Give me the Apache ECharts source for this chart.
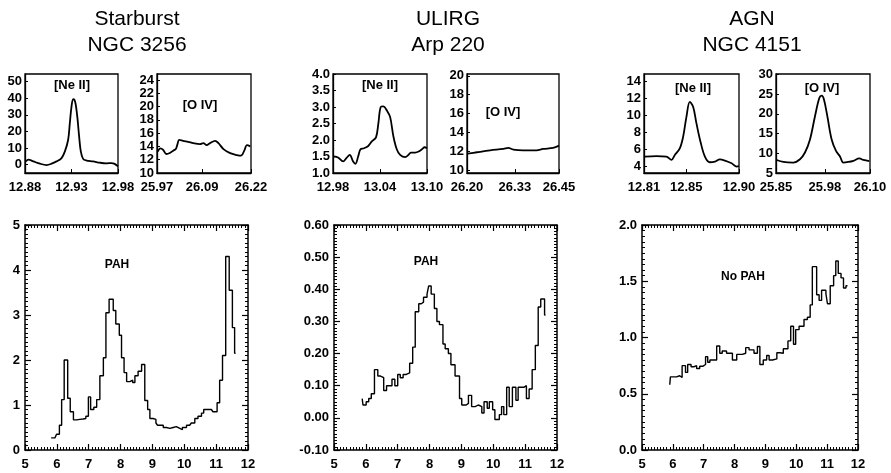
<!DOCTYPE html>
<html><head><meta charset="utf-8">
<script src="https://cdn.jsdelivr.net/npm/echarts@6/dist/echarts.min.js"></script>
<style>html,body{margin:0;padding:0;background:#fff}#c{width:891px;height:473px}</style>
</head><body><div id="c"></div>
<script>
// ---------- Titles ----------
const titles = [["Starburst","NGC 3256"],["ULIRG","Arp 220"],["AGN","NGC 4151"]];

// ---------- Top panels: line profiles ----------
// Starburst [Ne II]
const sbNeX = [12.8811,12.8836,12.8889,12.8961,12.9032,12.9086,12.9139,12.9193,12.9229,12.9264,12.9282,12.9300,12.9318,12.9332,12.9346,12.9364,12.9382,12.9400,12.9425,12.9461,12.9532,12.9604,12.9675,12.9729,12.9764,12.9800];
const sbNeY = [2,3,2,0.6,-0.2,0.6,2,4,8,15,25,35,39.5,39,36,28,17,8,3.5,2.5,2,1.2,0.8,1,0.5,-1];
const sbNeXTicks = [12.88,12.93,12.98];
const sbNeYTicks = [0,10,20,30,40,50];
// Starburst [O IV]
const sbOX = [25.9718,25.9789,25.9861,25.9950,26.0039,26.0129,26.0200,26.0245,26.0289,26.0396,26.0530,26.0664,26.0843,26.0932,26.1021,26.1111,26.1245,26.1334,26.1468,26.1646,26.1825,26.1932,26.2021,26.2093,26.2182];
const sbOY = [13.2,13.7,13.5,12.86,13.0,13.36,13.6,14.35,15.0,14.84,14.7,14.5,14.35,14.5,14.2,14.5,14.84,14.5,13.6,13.0,12.7,12.6,13.36,14.2,14.0];
const sbOXTicks = [25.97,26.09,26.22];
const sbOYTicks = [10,12,14,16,18,20,22,24];
// ULIRG [Ne II]
const ulNeX = [12.9813,12.9864,12.9929,12.9971,13.0014,13.0057,13.0087,13.0121,13.0151,13.0194,13.0250,13.0293,13.0349,13.0379,13.0409,13.0443,13.0486,13.0529,13.0572,13.0614,13.0657,13.0722,13.0764,13.0794,13.0850,13.0893,13.0936,13.0970,13.1000];
const ulNeY = [1.5,1.47,1.35,1.45,1.55,1.35,1.28,1.5,1.72,1.75,1.82,1.95,2.08,2.5,3.0,3.02,2.9,2.7,2.1,1.72,1.55,1.48,1.55,1.62,1.62,1.65,1.72,1.78,1.75];
const ulNeXTicks = [12.98,13.04,13.10];
const ulNeYTicks = [1.0,1.5,2.0,2.5,3.0,3.5,4.0];
// ULIRG [O IV]
const ulOX = [26.2018,26.2270,26.2630,26.2989,26.3124,26.3259,26.3529,26.3888,26.4068,26.4338,26.4500];
const ulOY = [11.75,11.9,12.1,12.25,12.36,12.18,12.1,12.1,12.25,12.36,12.6];
const ulOXTicks = [26.20,26.33,26.45];
const ulOYTicks = [10,12,14,16,18,20];
// AGN [Ne II]
const agNeX = [12.8106,12.8217,12.8312,12.8360,12.8392,12.8439,12.8471,12.8502,12.8534,12.8566,12.8597,12.8635,12.8677,12.8724,12.8772,12.8819,12.8867,12.8930,12.8978,12.9000];
const agNeY = [5.14,5.2,5.14,4.75,5.33,6.1,7.5,9.84,11.6,11.0,9.06,6.9,5.14,4.47,4.55,4.82,4.67,4.35,3.96,4.0];
const agNeXTicks = [12.81,12.85,12.90];
const agNeYTicks = [4,6,8,10,12,14];
// AGN [O IV]
const agOX = [25.8518,25.8695,25.8961,25.9138,25.9271,25.9404,25.9537,25.9652,25.9715,25.9777,25.9865,25.9980,26.0096,26.0202,26.0291,26.0424,26.0557,26.0716,26.0823,26.0982];
const agOY = [8.3,7.8,7.65,8.5,10.2,13.5,19.4,24.0,24.6,23.6,19.4,13.5,10.6,9.2,7.65,7.8,8.1,8.7,8.3,8.0];
const agOXTicks = [25.85,25.98,26.10];
const agOYTicks = [5,10,15,20,25,30];

// ---------- Bottom panels: step spectra (bin edges + values) ----------
const sbPahEdges = [5.82,5.94,5.99,6.08,6.15,6.23,6.34,6.42,6.52,6.62,6.72,6.82,6.91,6.99,7.06,7.16,7.25,7.35,7.46,7.54,7.64,7.77,7.85,7.96,8.03,8.11,8.19,8.29,8.38,8.45,8.55,8.66,8.76,8.85,8.92,9.02,9.11,9.16,9.25,9.34,9.44,9.55,9.65,9.75,9.86,9.94,10.07,10.17,10.22,10.33,10.43,10.54,10.61,10.69,10.85,10.90,11.03,11.11,11.20,11.30,11.41,11.51,11.58,11.61];
const sbPahVals  = [0.27,0.30,0.35,0.55,1.12,2.0,1.15,0.85,0.67,0.68,0.69,0.70,0.75,1.18,0.90,0.95,1.12,1.65,2.05,3.05,3.35,3.1,2.8,2.55,2.05,1.72,1.52,1.55,1.5,1.65,1.75,1.9,1.1,0.9,0.7,0.68,0.6,0.55,0.55,0.5,0.48,0.5,0.52,0.48,0.45,0.5,0.55,0.52,0.6,0.7,0.75,0.82,0.9,0.9,0.88,0.85,1.05,1.55,2.1,4.3,3.55,2.72,2.15];
const ulPahEdges = [5.885,5.91,6.01,6.09,6.17,6.27,6.375,6.46,6.56,6.65,6.82,6.91,7.0,7.08,7.17,7.27,7.375,7.47,7.55,7.66,7.74,7.81,7.92,7.97,8.05,8.15,8.23,8.31,8.42,8.49,8.59,8.67,8.80,8.94,9.01,9.15,9.22,9.32,9.43,9.53,9.64,9.71,9.81,9.875,9.98,10.05,10.19,10.26,10.33,10.42,10.5,10.6,10.71,10.78,10.96,11.04,11.125,11.22,11.32,11.41,11.49,11.61,11.64];
const ulPahVals  = [0.06,0.04,0.05,0.06,0.075,0.15,0.13,0.125,0.085,0.10,0.12,0.10,0.135,0.125,0.135,0.14,0.17,0.22,0.33,0.355,0.36,0.375,0.385,0.41,0.385,0.34,0.30,0.29,0.23,0.215,0.20,0.165,0.13,0.06,0.04,0.045,0.07,0.035,0.04,0.035,0.015,0.05,0.03,0.05,0.025,-0.005,0.01,0.035,0.01,0.095,0.035,0.095,0.055,0.095,0.10,0.06,0.09,0.15,0.225,0.345,0.37,0.32];
const agPahEdges = [5.90,5.92,6.12,6.22,6.30,6.41,6.48,6.59,6.68,6.77,6.87,6.98,7.06,7.13,7.20,7.42,7.52,7.60,7.74,7.93,8.07,8.25,8.36,8.47,8.63,8.74,8.82,8.93,9.04,9.12,9.23,9.37,9.47,9.58,9.73,9.82,9.91,9.98,10.09,10.25,10.36,10.45,10.52,10.66,10.74,10.82,10.96,11.01,11.10,11.21,11.28,11.36,11.45,11.53,11.61,11.66];
const agPahVals  = [0.58,0.65,0.66,0.645,0.75,0.69,0.76,0.74,0.75,0.725,0.745,0.76,0.83,0.78,0.80,0.925,0.86,0.88,0.86,0.80,0.85,0.86,0.91,0.89,0.86,0.92,0.76,0.80,0.84,0.80,0.81,0.865,0.86,0.90,0.97,1.10,0.94,1.07,1.10,1.16,1.18,1.29,1.63,1.38,1.33,1.42,1.39,1.30,1.46,1.55,1.68,1.57,1.53,1.44,1.46];
const bigXTicks = [5,6,7,8,9,10,11,12];

// ---------- chart construction ----------
const FONT = 'Liberation Sans, Arial, sans-serif';
const grid = [], xAxis = [], yAxis = [], series = [];
const lab = {color:'#000', fontFamily:FONT, fontWeight:'bold', fontSize:13};

function addTop(box, xr, yr, xT, yT, yFmt, xs, ys){
  const gi = grid.length;
  grid.push({left:box[0], top:box[1], width:box[2], height:box[3], show:true, borderColor:'#000', borderWidth:1.3, containLabel:false});
  xAxis.push({type:'value', gridIndex:gi, min:xr[0], max:xr[1], position:'bottom',
    splitLine:{show:false},
    axisLine:{show:true, onZero:false, lineStyle:{color:'#000', width:1.3}},
    axisTick:{show:true, inside:true, length:4, customValues:xT, lineStyle:{color:'#000'}},
    axisLabel:Object.assign({customValues:xT, margin:8, formatter:v=>v.toFixed(2)}, lab)});
  yAxis.push({type:'value', gridIndex:gi, min:yr[0], max:yr[1], position:'left',
    splitLine:{show:false},
    axisLine:{show:true, onZero:false, lineStyle:{color:'#000', width:1.3}},
    axisTick:{show:true, inside:true, length:3, customValues:yT, lineStyle:{color:'#000'}},
    axisLabel:Object.assign({customValues:yT, margin:3, formatter:yFmt}, lab)});
  series.push({type:'line', xAxisIndex:xAxis.length-1, yAxisIndex:yAxis.length-1,
    data: xs.map((x,i)=>[x, ys[i]]), smooth:0.35, showSymbol:false, silent:true,
    lineStyle:{color:'#000', width:1.8}});
}

function addBottom(box, yr, yInt, yFmt, edges, vals){
  const gi = grid.length;
  grid.push({left:box[0], top:box[1], width:box[2], height:box[3], show:false});
  const common = {splitLine:{show:false}};
  const tick = {show:true, inside:true, length:6, lineStyle:{color:'#000', width:1.2}};
  const minor = {show:true, splitNumber:10, length:3, lineStyle:{color:'#000', width:1}};
  xAxis.push(Object.assign({type:'value', gridIndex:gi, min:5, max:12, interval:1, position:'bottom',
    axisLine:{show:true, onZero:false, lineStyle:{color:'#000', width:1.5}},
    axisTick:tick, minorTick:minor,
    axisLabel:Object.assign({margin:8}, lab)}, common));
  const xb = xAxis.length-1;
  xAxis.push(Object.assign({type:'value', gridIndex:gi, min:5, max:12, interval:1, position:'top',
    axisLine:{show:true, onZero:false, lineStyle:{color:'#000', width:1.5}},
    axisTick:tick, minorTick:minor, axisLabel:{show:false}}, common));
  yAxis.push(Object.assign({type:'value', gridIndex:gi, min:yr[0], max:yr[1], interval:yInt, position:'left',
    axisLine:{show:true, onZero:false, lineStyle:{color:'#000', width:1.5}},
    axisTick:tick, minorTick:minor,
    axisLabel:Object.assign({margin:5, formatter:yFmt}, lab)}, common));
  const yl = yAxis.length-1;
  yAxis.push(Object.assign({type:'value', gridIndex:gi, min:yr[0], max:yr[1], interval:yInt, position:'right',
    axisLine:{show:true, onZero:false, lineStyle:{color:'#000', width:1.5}},
    axisTick:tick, minorTick:minor, axisLabel:{show:false}}, common));
  const data = vals.map((v,i)=>[edges[i], v]);
  data.push([edges[vals.length], vals[vals.length-1]]);
  series.push({type:'line', xAxisIndex:xb, yAxisIndex:yl, data, step:'end',
    showSymbol:false, silent:true, lineStyle:{color:'#000', width:1.4}});
}

const f0 = v=>String(Math.round(v));
const f1 = v=>v.toFixed(1);
const f2 = v=>v.toFixed(2);

addTop([25,74,93,99],   [12.88,12.98], [-5,54.6], sbNeXTicks, sbNeYTicks, f0, sbNeX, sbNeY);
addTop([157,74,94,99],  [25.97,26.22], [10,24.9], sbOXTicks, sbOYTicks, f0, sbOX, sbOY);
addTop([333,74,94,99],  [12.98,13.10], [1.0,4.0], ulNeXTicks, ulNeYTicks, f1, ulNeX, ulNeY);
addTop([467,74,92,99],  [26.20,26.45], [9.7,20.2], ulOXTicks, ulOYTicks, f0, ulOX, ulOY);
addTop([644,74,95,99],  [12.81,12.90], [3.2,14.9], agNeXTicks, agNeYTicks, f0, agNeX, agNeY);
addTop([776,74,94,99],  [25.85,26.10], [5,30.1], agOXTicks, agOYTicks, f0, agOX, agOY);

addBottom([25,225,223,225],  [0,5], 1, f0, sbPahEdges, sbPahVals);
addBottom([334,225,223,225], [-0.1,0.6], 0.1, f2, ulPahEdges, ulPahVals);
addBottom([642,225,216,225], [0,2], 0.5, f1, agPahEdges, agPahVals);

function txt(s, x, y, font){
  return {type:'text', x, y, silent:true, style:{text:s, fill:'#000', font, textAlign:'center', textVerticalAlign:'middle'}};
}
const tFont = 'normal 21px ' + FONT;
const lFont = 'bold 13px ' + FONT;
const pFont = 'bold 12px ' + FONT;
const titleX = [137, 448, 752];
const graphic = [];
titles.forEach((t,i)=>{ graphic.push(txt(t[0], titleX[i], 19, tFont)); graphic.push(txt(t[1], titleX[i], 45, tFont)); });
graphic.push(txt('[Ne II]', 72, 85, lFont));
graphic.push(txt('[O IV]', 200, 105, lFont));
graphic.push(txt('[Ne II]', 380, 85, lFont));
graphic.push(txt('[O IV]', 503, 112, lFont));
graphic.push(txt('[Ne II]', 693, 88, lFont));
graphic.push(txt('[O IV]', 822, 88, lFont));
graphic.push(txt('PAH', 117, 265, pFont));
graphic.push(txt('PAH', 426, 262, pFont));
graphic.push(txt('No PAH', 743, 277, pFont));

const chart = echarts.init(document.getElementById('c'), null, {renderer:'canvas'});
chart.setOption({animation:false, backgroundColor:'#fff', grid, xAxis, yAxis, series, graphic});
</script></body></html>
